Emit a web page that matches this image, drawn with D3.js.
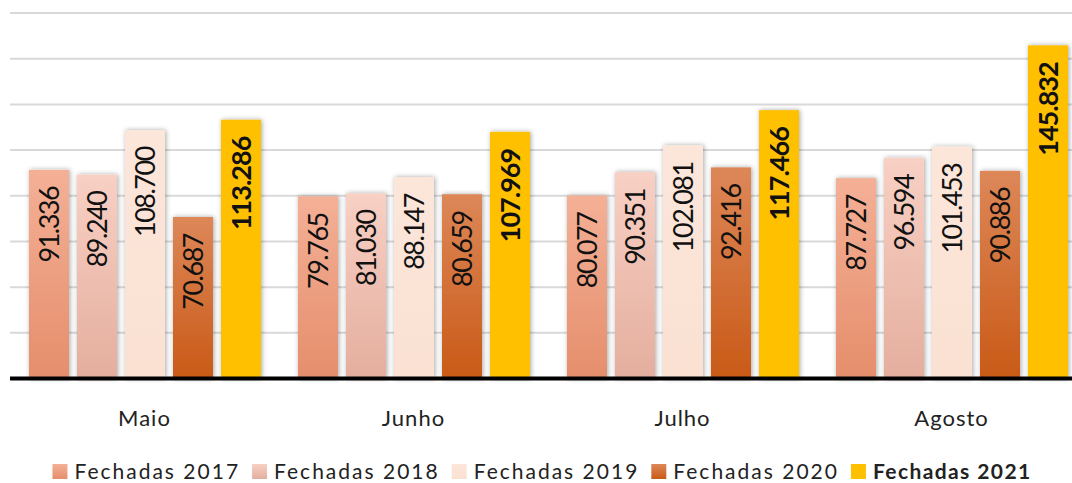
<!DOCTYPE html>
<html>
<head>
<meta charset="utf-8">
<script src="https://cdn.jsdelivr.net/npm/d3@7"></script>
<style>
  body { margin: 0; background: #fff; }
  text { font-family: Lato, "Open Sans", sans-serif; }
</style>
</head>
<body>
<svg id="chart" width="1072" height="483"></svg>
<script>
var months = ["Maio", "Junho", "Julho", "Agosto"];
var series = ["Fechadas 2017", "Fechadas 2018", "Fechadas 2019", "Fechadas 2020", "Fechadas 2021"];
var v2017 = [91.336, 79.765, 80.077, 87.727];
var v2018 = [89.240, 81.030, 90.351, 96.594];
var v2019 = [108.700, 88.147, 102.081, 101.453];
var v2020 = [70.687, 80.659, 92.416, 90.886];
var v2021 = [113.286, 107.969, 117.466, 145.832];
var yTicks = [20, 40, 60, 80, 100, 120, 140, 160];

var values = [v2017, v2018, v2019, v2020, v2021];
// gradient top / bottom per series
var grads = [["#f4b096", "#e58e6c"], ["#f8d0c4", "#e4ae9e"], ["#fce6da", "#fae1d2"],
             ["#dd8758", "#c95a17"], ["#ffc000", "#ffc000"]];

var svg = d3.select("#chart"),
    left = 10, baseY = 378.5, topY = 13;

var defs = svg.append("defs");
grads.forEach(function(g, i) {
  var lg = defs.append("linearGradient").attr("id", "g" + i)
      .attr("x1", 0).attr("y1", 0).attr("x2", 0).attr("y2", 1);
  lg.append("stop").attr("offset", "0%").attr("stop-color", g[0]);
  lg.append("stop").attr("offset", "100%").attr("stop-color", g[1]);
});
var f = defs.append("filter").attr("id", "shadow")
    .attr("x", "-30%").attr("y", "-10%").attr("width", "160%").attr("height", "120%");
f.append("feDropShadow").attr("dx", 1).attr("dy", 0).attr("stdDeviation", 2.5)
    .attr("flood-color", "#000").attr("flood-opacity", 0.35);

var y = d3.scaleLinear().domain([0, 160]).range([baseY, topY]);

var x0 = d3.scaleBand().domain(months).range([left, left + 4 * 269]);
var x1 = d3.scaleBand().domain(series).range([19, 251]).paddingInner(1 / 6).paddingOuter(0);

// gridlines
svg.append("g").selectAll("line").data(yTicks).enter().append("line")
    .attr("x1", left).attr("x2", 1072)
    .attr("y1", function(d) { return y(d); }).attr("y2", function(d) { return y(d); })
    .attr("stroke", "#d9d9d9").attr("stroke-width", 2);

var groups = svg.append("g").selectAll("g").data(months).enter().append("g")
    .attr("transform", function(d) { return "translate(" + x0(d) + ",0)"; });

groups.each(function(m, mi) {
  var g = d3.select(this);
  series.forEach(function(s, si) {
    var v = values[si][mi];
    g.append("rect")
        .attr("x", x1(s)).attr("y", y(v))
        .attr("width", x1.bandwidth()).attr("height", baseY - y(v))
        .attr("fill", "url(#g" + si + ")")
        .attr("filter", "url(#shadow)");
    var cx = x1(s) + x1.bandwidth() / 2, ty = y(v) + 17;
    g.append("text")
        .attr("transform", "translate(" + cx + "," + ty + ") rotate(-90)")
        .attr("text-anchor", "end")
        .attr("dy", "0.36em")
        .attr("font-size", 27)
        .attr("letter-spacing", si == 4 ? -1 : -1.5)
        .attr("font-weight", si == 4 ? "bold" : "normal")
        .attr("fill", "#111")
        .text(d3.format(".3f")(v));
  });
  g.append("text")
      .attr("x", x0.bandwidth() / 2).attr("y", 418)
      .attr("dy", "0.35em")
      .attr("text-anchor", "middle")
      .attr("font-size", 22)
      .attr("letter-spacing", 1)
      .attr("fill", "#222")
      .text(m);
});

// baseline
svg.append("line").attr("x1", left).attr("x2", 1072)
    .attr("y1", baseY).attr("y2", baseY)
    .attr("stroke", "#000").attr("stroke-width", 4);

// legend
var legend = svg.append("g");
var lx = 0;
series.forEach(function(s, i) {
  var item = legend.append("g").attr("transform", "translate(" + lx + ",0)");
  item.append("rect").attr("x", 0).attr("y", 464).attr("width", 15).attr("height", 15)
      .attr("fill", "url(#g" + i + ")");
  var t = item.append("text").attr("x", 22).attr("y", 472).attr("dy", "0.35em")
      .attr("font-size", 21)
      .attr("letter-spacing", i == 4 ? 1.4 : 2)
      .attr("font-weight", i == 4 ? "bold" : "normal")
      .attr("fill", "#222")
      .text(s);
  lx += 22 + t.node().getComputedTextLength() + 12;
});
legend.attr("transform", "translate(" + (542 - (lx - 12) / 2) + ",0)");
</script>
</body>
</html>
